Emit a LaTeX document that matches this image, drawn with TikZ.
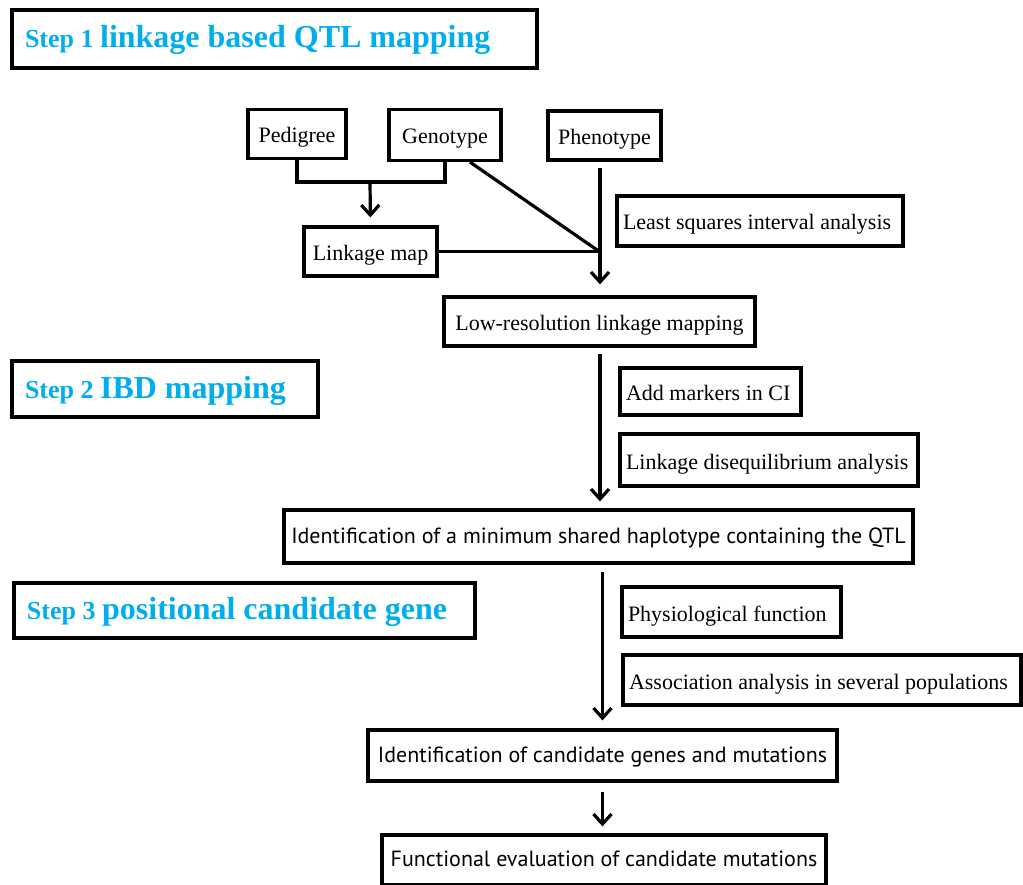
\documentclass[tikz,border=0pt]{standalone}
\usepackage{fontspec}
\setmainfont{Liberation Serif}
\newfontfamily\myriadlike{PT Sans}
\usepackage{tikz}
\usetikzlibrary{positioning}
\usetikzlibrary{arrows.meta, calc}
\definecolor{stepcyan}{RGB}{0,174,239}
\tikzstyle{arrow} = [line width=3.2pt,-{Straight Barb[length=10pt,width=18pt]}]
\tikzstyle{link} = [line width=3.2pt]
\tikzstyle{box} = [draw, line width=3.2pt, inner sep=0pt, text height=22pt, text depth=4pt, font=\fontsize{22}{26}\selectfont]
\tikzstyle{sidebox} = [box, inner xsep=6pt, align=flush left]
\tikzstyle{sansbox} = [box, text height=18pt, text depth=5pt, font=\myriadlike\fontsize{22}{26}\selectfont]
\tikzstyle{stepbox} = [draw, line width=4pt, inner xsep=13pt, inner ysep=0pt, text height=24pt, text depth=6pt, align=flush left, text=stepcyan, font=\bfseries]
\newcommand{\steplabel}[2]{{\fontsize{26}{30}\selectfont Step #1 }{\fontsize{32}{36}\selectfont #2}}

\begin{document}
\begin{tikzpicture}[x=1pt, y=-1pt]
  \useasboundingbox (0,0) rectangle (1023,885);

  % Step headers
  \node[stepbox, text width=499, minimum height=58] (step1) at (274.5,39) {\steplabel{1}{linkage based QTL mapping}};
  \node[stepbox, text width=280, minimum height=56] (step2) at (165,389) {\steplabel{2}{IBD mapping}};
  \node[stepbox, text width=435, minimum height=55] (step3) at (244.5,610.5) {\steplabel{3}{positional candidate gene}};

  % Inputs
  \node[box, minimum width=98, minimum height=49] (ped) at (297,134) {Pedigree};
  \node[box, minimum width=112, minimum height=51] (geno) at (445,135) {Genotype};
  \node[box, minimum width=113, minimum height=49] (pheno) at (604.5,135.5) {Phenotype};
  \node[box, minimum width=133, minimum height=49] (lmap) at (370.5,251.5) {Linkage map};
  \node[box, minimum width=311, minimum height=49] (lowres) at (599.5,321.5) {Low-resolution linkage mapping};

  % Side boxes
  \node[sidebox, text width=274, minimum height=50] (lsq) at (760,221) {Least squares interval analysis};
  \node[sidebox, text width=169, minimum height=47] (addm) at (710.5,391.5) {Add markers in CI};
  \node[sidebox, text width=286, minimum height=52] (ldis) at (769,460) {Linkage disequilibrium analysis};
  \node[sidebox, text width=207, minimum height=50] (physio) at (731.5,612) {Physiological function};
  \node[sidebox, text width=386, minimum height=50] (assoc) at (822,680) {Association analysis in several populations};

  % Results
  \node[sansbox, minimum width=629, minimum height=53] (minhap) at (598.5,536.5) {Identification of a minimum shared haplotype containing the QTL};
  \node[sansbox, minimum width=469, minimum height=51] (candg) at (602.5,755.5) {Identification of candidate genes and mutations};
  \node[sansbox, minimum width=444, minimum height=50] (func) at (604,860) {Functional evaluation of candidate mutations};

  % Connectors
  \coordinate (jn) at (370,182);
  \coordinate (hub) at (600,252);
  \draw[link] (ped.south) |- (jn) -| (geno.south);
  \draw[arrow, shorten >=8pt] (jn) -- (lmap.north);
  \draw[link] ($(geno.south)+(25,0)$) -- (hub);
  \draw[link] (lmap.east) -- (lmap.east -| hub);
  \draw[arrow, shorten <=6pt, shorten >=11pt] (pheno.south -| hub) -- (lowres.north -| hub);
  \draw[arrow, shorten <=6pt, shorten >=7pt] (lowres.south -| hub) -- (minhap.north -| hub);
  \draw[arrow, shorten <=7pt, shorten >=8pt] (minhap.south -| candg.north) -- (candg.north);
  \draw[arrow, shorten <=9pt, shorten >=7pt] (candg.south) -- (func.north -| candg.south);
\end{tikzpicture}
\end{document}
